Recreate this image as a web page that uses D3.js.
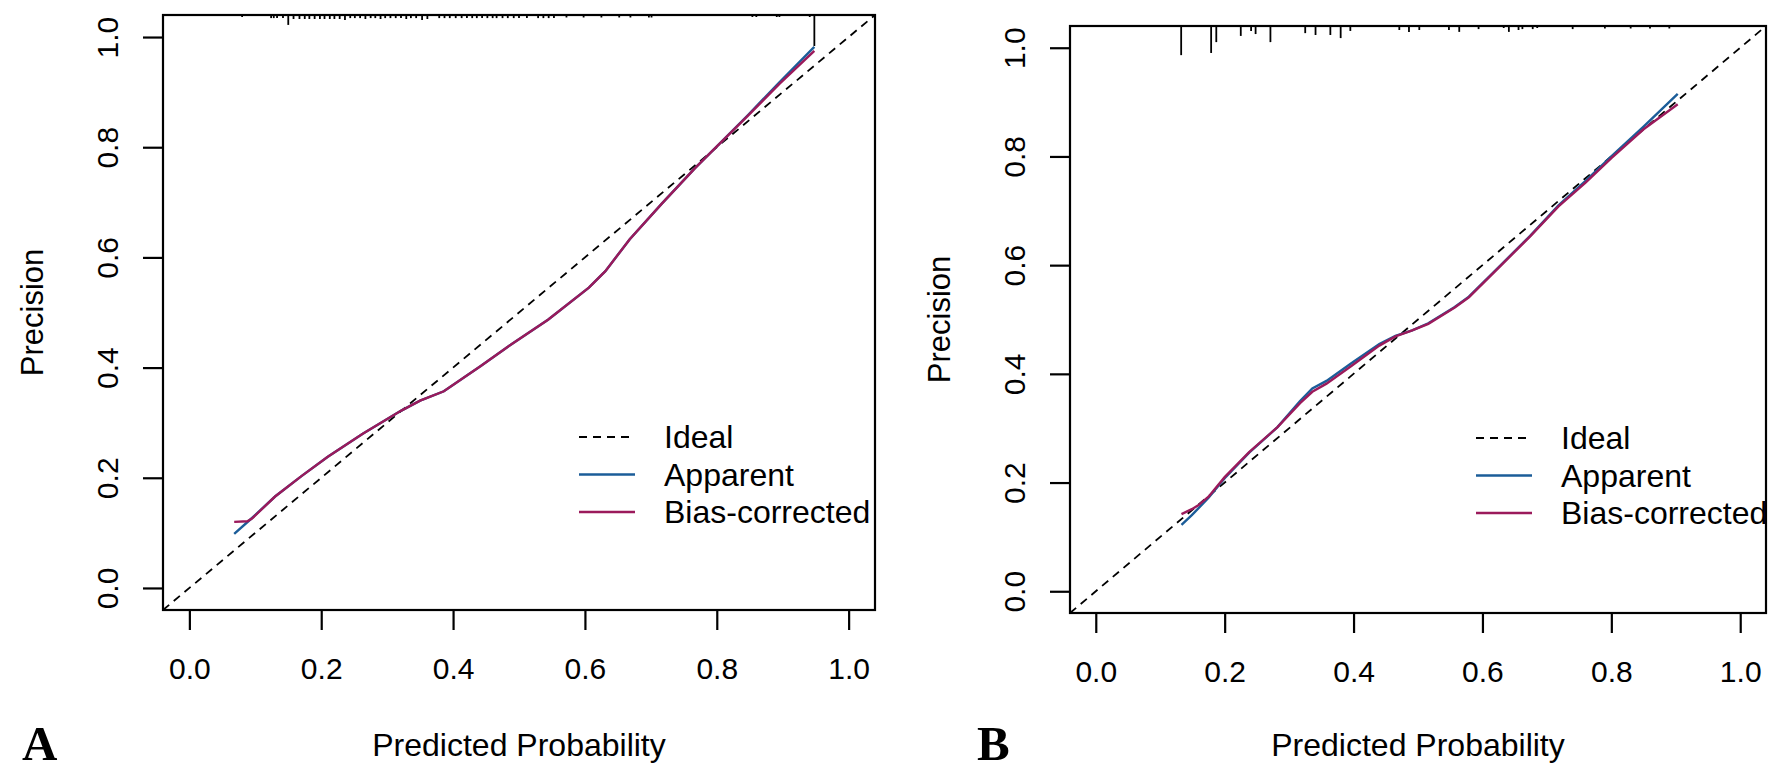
<!DOCTYPE html>
<html lang="en">
<head>
<meta charset="UTF-8">
<title>Calibration curves</title>
<style>
  body { margin: 0; background: #fff; }
  text { font-family: "Liberation Sans", Arial, sans-serif; fill: #000; }
  .tick line, .box, .rug line { stroke: #000; }
</style>
</head>
<body>
<svg width="1784" height="774"></svg>
<script src="https://d3js.org/d3.v7.min.js"></script>
<script>

// ---- data ----
var axisTicks = [0, 0.2, 0.4, 0.6, 0.8, 1.0];
var legendLabels = ["Ideal", "Apparent", "Bias-corrected"];
var panelLetters = ["A", "B"];

// panel A
var apparentA = [[0.068,0.098],[0.095,0.127],[0.13,0.166],[0.17,0.203],[0.21,0.238],[0.263,0.280],
    [0.3215,0.322],[0.35,0.340],[0.386,0.357],[0.442,0.403],[0.488,0.442],[0.544,0.487],[0.606,0.545],
    [0.631,0.575],[0.668,0.633],[0.717,0.698],[0.767,0.762],[0.804,0.806],[0.847,0.858],[0.895,0.918],[0.948,0.982]];
var biasA = [[0.068,0.120],[0.088,0.121],[0.095,0.126],[0.13,0.166],[0.17,0.203],[0.21,0.238],[0.263,0.280],
    [0.3215,0.322],[0.35,0.340],[0.386,0.357],[0.442,0.403],[0.488,0.442],[0.544,0.487],[0.606,0.545],
    [0.631,0.575],[0.668,0.633],[0.717,0.698],[0.767,0.762],[0.804,0.806],[0.847,0.857],[0.895,0.915],[0.948,0.975]];
var rugAx = [0.080,0.124,0.128,0.133,0.142,0.150,0.158,0.167,0.175,0.182,0.190,0.198,0.205,0.213,0.220,0.228,
    0.236,0.244,0.251,0.259,0.267,0.275,0.282,0.290,0.297,0.305,0.313,0.321,0.329,0.336,0.344,0.353,0.361,
    0.379,0.387,0.395,0.404,0.413,0.421,0.429,0.436,0.444,0.452,0.460,0.466,0.475,0.483,0.492,0.500,0.512,
    0.529,0.537,0.545,0.553,0.572,0.598,0.625,0.652,0.669,0.697,0.701,0.854,0.860,0.891,0.895,0.941,0.948];
var rugAn = [6,10,10,10,10,32,13,13,13,13,13,13,13,13,13,13,
    16,10,10,10,13,10,10,13,10,10,10,10,13,10,10,16,13,
    10,10,10,10,10,10,10,10,10,10,10,10,10,10,10,10,10,
    10,10,10,10,8,8,8,8,8,8,8,6,6,6,6,6,100];

// panel B
var apparentB = [[0.133,0.122],[0.149,0.140],[0.175,0.172],[0.200,0.208],[0.238,0.255],[0.282,0.302],
    [0.317,0.350],[0.336,0.373],[0.358,0.387],[0.396,0.419],[0.440,0.455],[0.465,0.470],[0.491,0.480],
    [0.516,0.493],[0.557,0.523],[0.579,0.542],[0.630,0.602],[0.674,0.654],[0.718,0.710],[0.76,0.755],
    [0.80,0.800],[0.85,0.855],[0.903,0.915]];
var biasB = [[0.133,0.142],[0.149,0.151],[0.159,0.158],[0.175,0.174],[0.200,0.210],[0.238,0.256],[0.282,0.302],
    [0.317,0.346],[0.336,0.367],[0.358,0.382],[0.396,0.414],[0.440,0.452],[0.465,0.469],[0.491,0.480],
    [0.516,0.492],[0.557,0.522],[0.579,0.541],[0.630,0.601],[0.674,0.653],[0.718,0.708],[0.76,0.752],
    [0.80,0.797],[0.85,0.850],[0.903,0.896]];
var rugBx = [0.1325,0.179,0.187,0.225,0.241,0.248,0.271,0.325,0.341,0.364,0.380,0.395,0.471,0.486,0.502,
    0.548,0.564,0.594,0.633,0.641,0.656,0.662,0.678,0.685,0.740,0.790,0.830,0.860,0.890];
var rugBn = [94,87,52,32,16,26,52,23,29,29,39,16,13,19,13,13,19,10,6,19,13,10,10,6,10,8,8,8,8];

var colIdeal = "#000000", colApparent = "#1b5d99", colBias = "#9b1a5b";

// ---- drawing ----
var svg = d3.select("svg");

function drawPanel(p) {
    var x = d3.scaleLinear().domain([-0.04, 1.04]).range([p.left, p.right]);
    var y = d3.scaleLinear().domain([-0.04, 1.04]).range([p.bottom, p.top]);
    var g = svg.append("g");

    // ideal
    g.append("line")
        .attr("x1", x(-0.04)).attr("y1", y(-0.04))
        .attr("x2", x(1.04)).attr("y2", y(1.04))
        .attr("stroke", colIdeal).attr("stroke-width", 1.8)
        .attr("stroke-dasharray", "8,6");

    var line = d3.line().x(function(d) { return x(d[0]); }).y(function(d) { return y(d[1]); });
    g.append("path").datum(p.apparent).attr("d", line)
        .attr("fill", "none").attr("stroke", colApparent).attr("stroke-width", 2.4);
    g.append("path").datum(p.bias).attr("d", line)
        .attr("fill", "none").attr("stroke", colBias).attr("stroke-width", 2.4);

    // rug along the top
    var rugLen = d3.scaleLinear().domain([0, 100]).range([0, 31]);
    g.append("g").attr("class", "rug").selectAll("line")
        .data(p.rugX)
        .enter().append("line")
        .attr("x1", function(d) { return x(d); })
        .attr("x2", function(d) { return x(d); })
        .attr("y1", p.top)
        .attr("y2", function(d, i) { return p.top + Math.max(2, rugLen(p.rugN[i])); })
        .attr("stroke-width", 1.8);

    // box
    g.append("rect").attr("class", "box")
        .attr("x", p.left).attr("y", p.top)
        .attr("width", p.right - p.left).attr("height", p.bottom - p.top)
        .attr("fill", "none").attr("stroke-width", 2.2);

    // x axis
    var gx = g.append("g")
        .attr("transform", "translate(0," + p.bottom + ")")
        .call(d3.axisBottom(x).tickValues(axisTicks).tickSize(20).tickFormat(d3.format(".1f")));
    gx.select(".domain").remove();
    gx.selectAll(".tick line").attr("stroke-width", 2.2);
    gx.selectAll("text").attr("y", 58).attr("dy", "0.35em")
        .style("font-size", "30px").attr("fill", "#000");

    // y axis
    var gy = g.append("g")
        .attr("transform", "translate(" + p.left + ",0)")
        .call(d3.axisLeft(y).tickValues(axisTicks).tickSize(20).tickFormat(d3.format(".1f")));
    gy.select(".domain").remove();
    gy.selectAll(".tick line").attr("stroke-width", 2.2);
    gy.selectAll("text")
        .attr("x", null).attr("dy", "0.35em")
        .attr("text-anchor", "middle")
        .attr("transform", "translate(-56,0) rotate(-90)")
        .style("font-size", "30px").attr("fill", "#000");

    // axis titles
    g.append("text")
        .attr("x", (p.left + p.right) / 2).attr("y", 745).attr("dy", "0.35em")
        .attr("text-anchor", "middle").style("font-size", "32px")
        .text("Predicted Probability");
    g.append("text")
        .attr("transform", "translate(" + (p.left - 131) + "," + (p.top + p.bottom) / 2 + ") rotate(-90)")
        .attr("dy", "0.35em").attr("text-anchor", "middle").style("font-size", "31px")
        .text("Precision");

    // legend
    var styles = [
        {c: colIdeal, dash: "8,6", w: 1.8},
        {c: colApparent, dash: null, w: 2.4},
        {c: colBias, dash: null, w: 2.4}
    ];
    legendLabels.forEach(function(lab, i) {
        var ly = p.legY + i * 37.5;
        g.append("line")
            .attr("x1", p.legX).attr("x2", p.legX + 56)
            .attr("y1", ly).attr("y2", ly)
            .attr("stroke", styles[i].c).attr("stroke-width", styles[i].w)
            .attr("stroke-dasharray", styles[i].dash);
        g.append("text")
            .attr("x", p.legX + 85).attr("y", ly).attr("dy", "0.35em")
            .style("font-size", "32px").text(lab);
    });

    // panel letter
    g.append("text")
        .attr("x", p.letterX).attr("y", 760)
        .style("font-family", "'Liberation Serif', 'Times New Roman', serif")
        .style("font-weight", "bold").style("font-size", "49px")
        .text(p.letter);
}

drawPanel({
    left: 163, right: 875, top: 15, bottom: 610,
    apparent: apparentA, bias: biasA, rugX: rugAx, rugN: rugAn,
    legX: 579, legY: 437, letterX: 22, letter: panelLetters[0]
});
drawPanel({
    left: 1070, right: 1766, top: 26, bottom: 613,
    apparent: apparentB, bias: biasB, rugX: rugBx, rugN: rugBn,
    legX: 1476, legY: 438, letterX: 977, letter: panelLetters[1]
});

</script>
</body>
</html>
